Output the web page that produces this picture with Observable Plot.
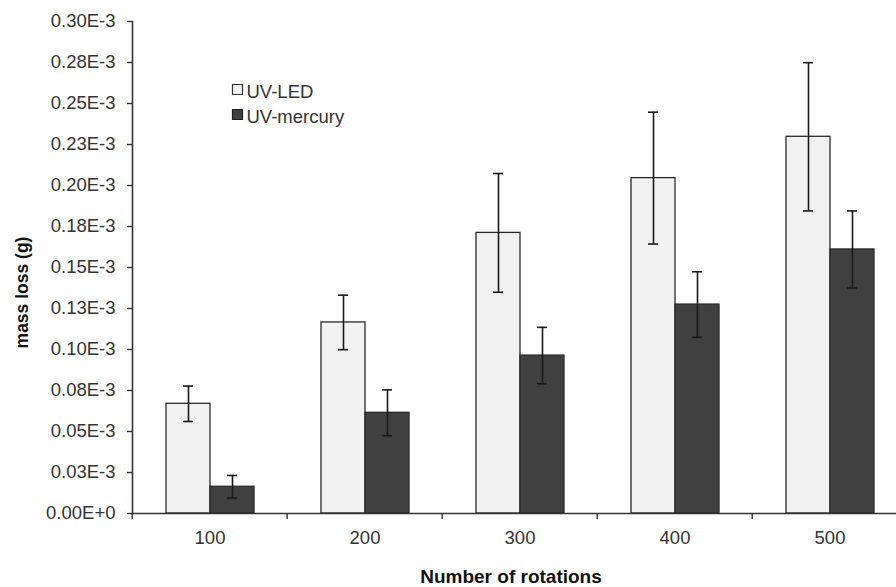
<!DOCTYPE html>
<html>
<head>
<meta charset="utf-8">
<script src="https://cdn.jsdelivr.net/npm/d3@7"></script>
<script src="https://cdn.jsdelivr.net/npm/@observablehq/plot@0.6"></script>
<style>
  html, body { margin: 0; padding: 0; background: white; overflow: hidden; }
  #chart svg { overflow: hidden; }
</style>
</head>
<body>
<div id="chart"></div>
<script>
// Number of rotations (categories)
const categories = [100, 200, 300, 400, 500];
const series = ["UV-LED", "UV-mercury"];
// mass loss, in units of 1E-3 g
const ledMean = [0.0669, 0.1165, 0.1711, 0.2045, 0.2297];
const ledErr  = [0.0108, 0.0166, 0.0362, 0.0402, 0.0452];
const hgMean  = [0.0163, 0.0614, 0.0963, 0.1274, 0.1610];
const hgErr   = [0.0069, 0.0140, 0.0172, 0.0200, 0.0235];
// y-axis ticks and their labels (as printed on the original)
const yTicks = [0, 0.025, 0.05, 0.075, 0.1, 0.125, 0.15, 0.175, 0.2, 0.225, 0.25, 0.275, 0.3];
const yTickLabels = ["0.00E+0", "0.03E-3", "0.05E-3", "0.08E-3", "0.10E-3", "0.13E-3", "0.15E-3",
                     "0.18E-3", "0.20E-3", "0.23E-3", "0.25E-3", "0.28E-3", "0.30E-3"];
const colors = ["#f2f2f2", "#404040"];

const data = categories.flatMap((c, i) => [
  {cat: c, series: series[0], mean: ledMean[i], err: ledErr[i]},
  {cat: c, series: series[1], mean: hgMean[i], err: hgErr[i]}
]);

const W = 896, H = 587, mL = 130, mR = -12, mT = 21, mB = 74;
const step = (W - mL - mR) / categories.length;
const first = () => categories[0];
const middle = () => categories[2];

const chart = Plot.plot({
  width: W, height: H,
  marginLeft: mL, marginRight: mR, marginTop: mT, marginBottom: mB,
  style: {fontFamily: "'Liberation Sans', Arial, sans-serif", fontSize: "18px", color: "#333", background: "white", overflow: "hidden"},
  fx: {domain: categories, padding: 0},
  x: {domain: series, paddingInner: 0, paddingOuter: 0.75, axis: null},
  y: {domain: [0, 0.3]},
  color: {domain: series, range: colors},
  marks: [
    Plot.barY(data, {fx: "cat", x: "series", y: "mean", fill: "series", stroke: "#2a2a2a", strokeWidth: 1.3}),
    Plot.ruleX(data, {fx: "cat", x: "series", y1: d => d.mean - d.err, y2: d => d.mean + d.err, stroke: "#1a1a1a", strokeWidth: 1.6}),
    Plot.tickY(data, {fx: "cat", x: "series", y: d => d.mean - d.err, stroke: "#1a1a1a", strokeWidth: 1.6, insetLeft: 17, insetRight: 17}),
    Plot.tickY(data, {fx: "cat", x: "series", y: d => d.mean + d.err, stroke: "#1a1a1a", strokeWidth: 1.6, insetLeft: 17, insetRight: 17}),
    // axis lines
    Plot.ruleY([0], {stroke: "#333", strokeWidth: 1.6}),
    Plot.frame({anchor: "left", fx: first, stroke: "#333", strokeWidth: 1.6}),
    // y axis
    Plot.axisY({ticks: yTicks, tickFormat: (d, i) => yTickLabels[i], tickSize: 5, tickPadding: 12, stroke: "#333", strokeWidth: 1.4, fill: "#333", fontSize: 18.5, label: null}),
    // x axis: labels centered, ticks at category boundaries
    Plot.axisFx({anchor: "bottom", tickSize: 0, tickPadding: 17, fill: "#333", fontSize: 18.5, label: null}),
    Plot.axisFx({anchor: "bottom", ticks: categories, tickSize: 6, tickFormat: () => "", dx: -step / 2, stroke: "#333", strokeWidth: 1.4, label: null}),
    // axis titles
    Plot.text(["mass loss (g)"], {fx: first, frameAnchor: "left", textAnchor: "middle", lineAnchor: "middle", rotate: -90, dx: -110, dy: 25, fontWeight: "bold", fontSize: 17.5, fill: "#111"}),
    Plot.text(["Number of rotations"], {fx: middle, frameAnchor: "bottom", dx: -9, dy: 69, fontWeight: "bold", fontSize: 19, fill: "#111"}),
    // legend
    Plot.dot([series[0]], {fx: first, frameAnchor: "top-left", dx: 105, dy: 68, symbol: "square", r: 5.64, fill: colors[0], stroke: "#333", strokeWidth: 1.2}),
    Plot.dot([series[1]], {fx: first, frameAnchor: "top-left", dx: 105, dy: 93, symbol: "square", r: 5.64, fill: colors[1], stroke: "#222", strokeWidth: 1.2}),
    Plot.text([series[0]], {fx: first, frameAnchor: "top-left", lineAnchor: "top", dx: 114, dy: 63, textAnchor: "start", fontSize: 18.5, fill: "#333"}),
    Plot.text([series[1]], {fx: first, frameAnchor: "top-left", lineAnchor: "top", dx: 114, dy: 88, textAnchor: "start", fontSize: 18.5, fill: "#333"})
  ]
});
document.getElementById("chart").appendChild(chart);
</script>
</body>
</html>
